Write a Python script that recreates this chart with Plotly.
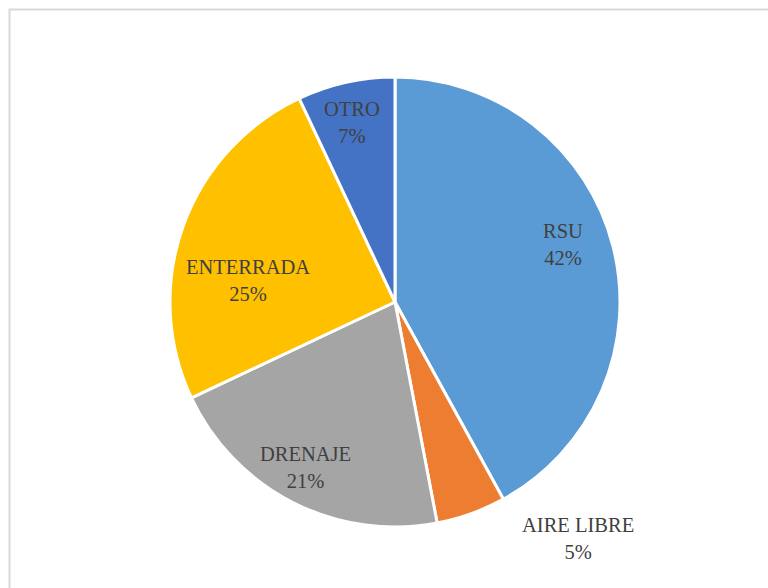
import plotly.graph_objects as go

labels = ["RSU", "AIRE LIBRE", "DRENAJE", "ENTERRADA", "OTRO"]
values = [42, 5, 21, 25, 7]
colors = ["#5B9BD5", "#ED7D31", "#A5A5A5", "#FFC000", "#4472C4"]

W, H = 768, 588
cx, cy, r = 395, 302, 225

# label positions in pixels (from top-left)
label_pos = [(563, 244), (578, 538), (305, 467), (248, 280), (352, 123)]

fig = go.Figure()
fig.add_trace(go.Pie(
    labels=labels,
    values=values,
    sort=False,
    direction="clockwise",
    rotation=0,
    marker=dict(colors=colors, line=dict(color="white", width=3)),
    textinfo="none",
    hoverinfo="label+percent",
    domain=dict(x=[(cx - r) / W, (cx + r) / W], y=[(H - cy - r) / H, (H - cy + r) / H]),
    showlegend=False,
))

total = sum(values)
for lab, val, (px_, py_) in zip(labels, values, label_pos):
    fig.add_annotation(
        x=px_ / W, y=1 - py_ / H, xref="paper", yref="paper",
        xanchor="center", yanchor="middle",
        text=f"{lab}<br>{round(val / total * 100)}%",
        showarrow=False,
        font=dict(family="Liberation Serif, Times New Roman, DejaVu Serif, serif", size=20.5, color="#404040"),
        align="center",
    )

fig.add_shape(
    type="rect", xref="paper", yref="paper",
    x0=9.5 / W, y0=1 - 9.5 / H, x1=1.05, y1=-0.05,
    line=dict(color="#D9D9D9", width=2),
)

fig.update_layout(
    width=W, height=H,
    margin=dict(l=0, r=0, t=0, b=0),
    paper_bgcolor="white",
    plot_bgcolor="white",
    font=dict(family="Liberation Serif, Times New Roman, serif"),
)
fig.write_html("out.html", config={"displayModeBar": False},
               post_script="document.body.style.margin='0';document.body.style.overflow='hidden';")
